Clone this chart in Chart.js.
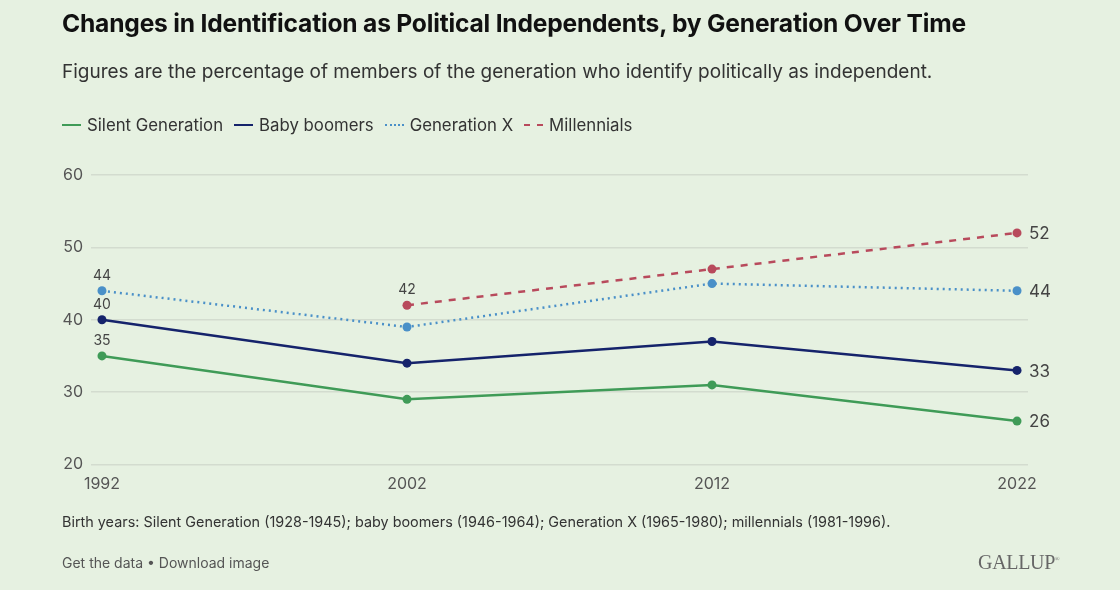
<!DOCTYPE html>
<html><head><meta charset="utf-8">
<script src="https://cdn.jsdelivr.net/npm/chart.js@4.4.1/dist/chart.umd.min.js"></script>
<style>
html,body{margin:0;padding:0;background:#e6f1e1;}
body{width:1120px;height:590px;position:relative;overflow:hidden;font-family:Inter,"Noto Sans",sans-serif;}
#wrap{position:absolute;left:0;top:0;width:1120px;height:590px;}
.t{position:absolute;white-space:nowrap;}
#title{left:62px;top:8px;font-size:24.6px;font-weight:700;color:#111;letter-spacing:-0.2px;}
#sub{left:62px;top:60px;font-size:19px;color:#333;}
#legend{left:62px;top:115px;font-size:16.8px;color:#333;display:flex;align-items:center;}
.li{display:flex;align-items:center;margin-right:11px;}
.sw{width:19px;height:0;margin-right:6px;}
#note{left:62px;top:513px;font-size:14.4px;color:#333;}
#links{left:62px;top:554px;font-size:14px;color:#555;}
#gallup{left:978px;top:551px;font-size:20px;color:#666;font-family:"Liberation Serif","DejaVu Serif",serif;letter-spacing:-0.3px;}
</style></head>
<body>
<div id="wrap"><canvas id="c" width="1120" height="590"></canvas></div>
<div class="t" id="title">Changes in Identification as Political Independents, by Generation Over Time</div>
<div class="t" id="sub">Figures are the percentage of members of the generation who identify politically as independent.</div>
<div class="t" id="legend"></div>
<div class="t" id="note">Birth years: Silent Generation (1928-1945); baby boomers (1946-1964); Generation X (1965-1980); millennials (1981-1996).</div>
<div class="t" id="links">Get the data • Download image</div>
<div class="t" id="gallup">GALLUP<sup style="font-size:6px">®</sup></div>
<script>
const years = [1992, 2002, 2012, 2022];
const yTicks = [20, 30, 40, 50, 60];
const seriesNames = ["Silent Generation", "Baby boomers", "Generation X", "Millennials"];
const silent = [35, 29, 31, 26];
const boomers = [40, 34, 37, 33];
const genX = [44, 39, 45, 44];
const millennials = [null, 42, 47, 52];
const colors = ["#3f9b57", "#15236b", "#4a90c8", "#b84a5c"];
const dashes = [[], [], [2, 4], [7, 7]];

const allSeries = [silent, boomers, genX, millennials];

// legend
const lg = document.getElementById('legend');
seriesNames.forEach((n, i) => {
  const d = document.createElement('div'); d.className = 'li';
  const s = document.createElement('div'); s.className = 'sw';
  const style = i === 2 ? 'dotted' : (i === 3 ? 'dashed' : 'solid');
  s.style.borderTop = '2.5px ' + style + ' ' + colors[i];
  d.appendChild(s);
  const tx = document.createElement('span'); tx.textContent = n; d.appendChild(tx);
  lg.appendChild(d);
});

const labelPlugin = {
  id: 'lbls',
  afterDatasetsDraw(chart) {
    const ctx = chart.ctx;
    const xs = chart.scales.x, ys = chart.scales.y;
    ctx.save();
    ctx.fillStyle = '#444';
    allSeries.forEach((arr, i) => {
      const fi = arr.findIndex(v => v !== null);
      ctx.font = '14px Inter, "Noto Sans", sans-serif';
      ctx.textAlign = 'center'; ctx.textBaseline = 'bottom';
      ctx.fillText(String(arr[fi]), xs.getPixelForValue(years[fi]), ys.getPixelForValue(arr[fi]) - 8);
      const li = arr.length - 1;
      ctx.font = '17px Inter, "Noto Sans", sans-serif';
      ctx.textAlign = 'left'; ctx.textBaseline = 'middle';
      ctx.fillText(String(arr[li]), xs.getPixelForValue(years[li]) + 12, ys.getPixelForValue(arr[li]) + 1);
    });
    ctx.restore();
  }
};

new Chart(document.getElementById('c'), {
  type: 'line',
  data: {
    datasets: allSeries.map((arr, i) => ({
      label: seriesNames[i],
      data: years.map((y, k) => ({x: y, y: arr[k]})),
      borderColor: colors[i],
      backgroundColor: colors[i],
      borderWidth: 2.5,
      borderDash: dashes[i],
      pointRadius: 4.5,
      pointHoverRadius: 4.5,
      pointBorderWidth: 0,
      spanGaps: false,
      tension: 0
    }))
  },
  options: {
    responsive: false,
    animation: false,
    events: [],
    layout: {padding: {top: 175, right: 92, left: 0, bottom: 0}},
    plugins: {legend: {display: false}, tooltip: {enabled: false}},
    scales: {
      x: {
        type: 'linear',
        min: 1991.64, max: 2022.36,
        afterBuildTicks: s => { s.ticks = years.map(v => ({value: v})); },
        afterFit: s => { s.height = 590 - 464.5; },
        grid: {display: false, drawTicks: false},
        border: {display: false},
        ticks: {padding: 10, color: '#555', font: {size: 16, family: 'Inter, "Noto Sans", sans-serif'}, callback: v => String(v), maxRotation: 0}
      },
      y: {
        min: 20, max: 60,
        afterBuildTicks: s => { s.ticks = yTicks.map(v => ({value: v})); },
        afterFit: s => { s.width = 91; },
        grid: {color: '#d3dccf', lineWidth: 1.5, drawTicks: false},
        border: {display: false},
        ticks: {padding: 8, color: '#555', font: {size: 16, family: 'Inter, "Noto Sans", sans-serif'}}
      }
    }
  },
  plugins: [labelPlugin]
});
</script>
</body></html>
